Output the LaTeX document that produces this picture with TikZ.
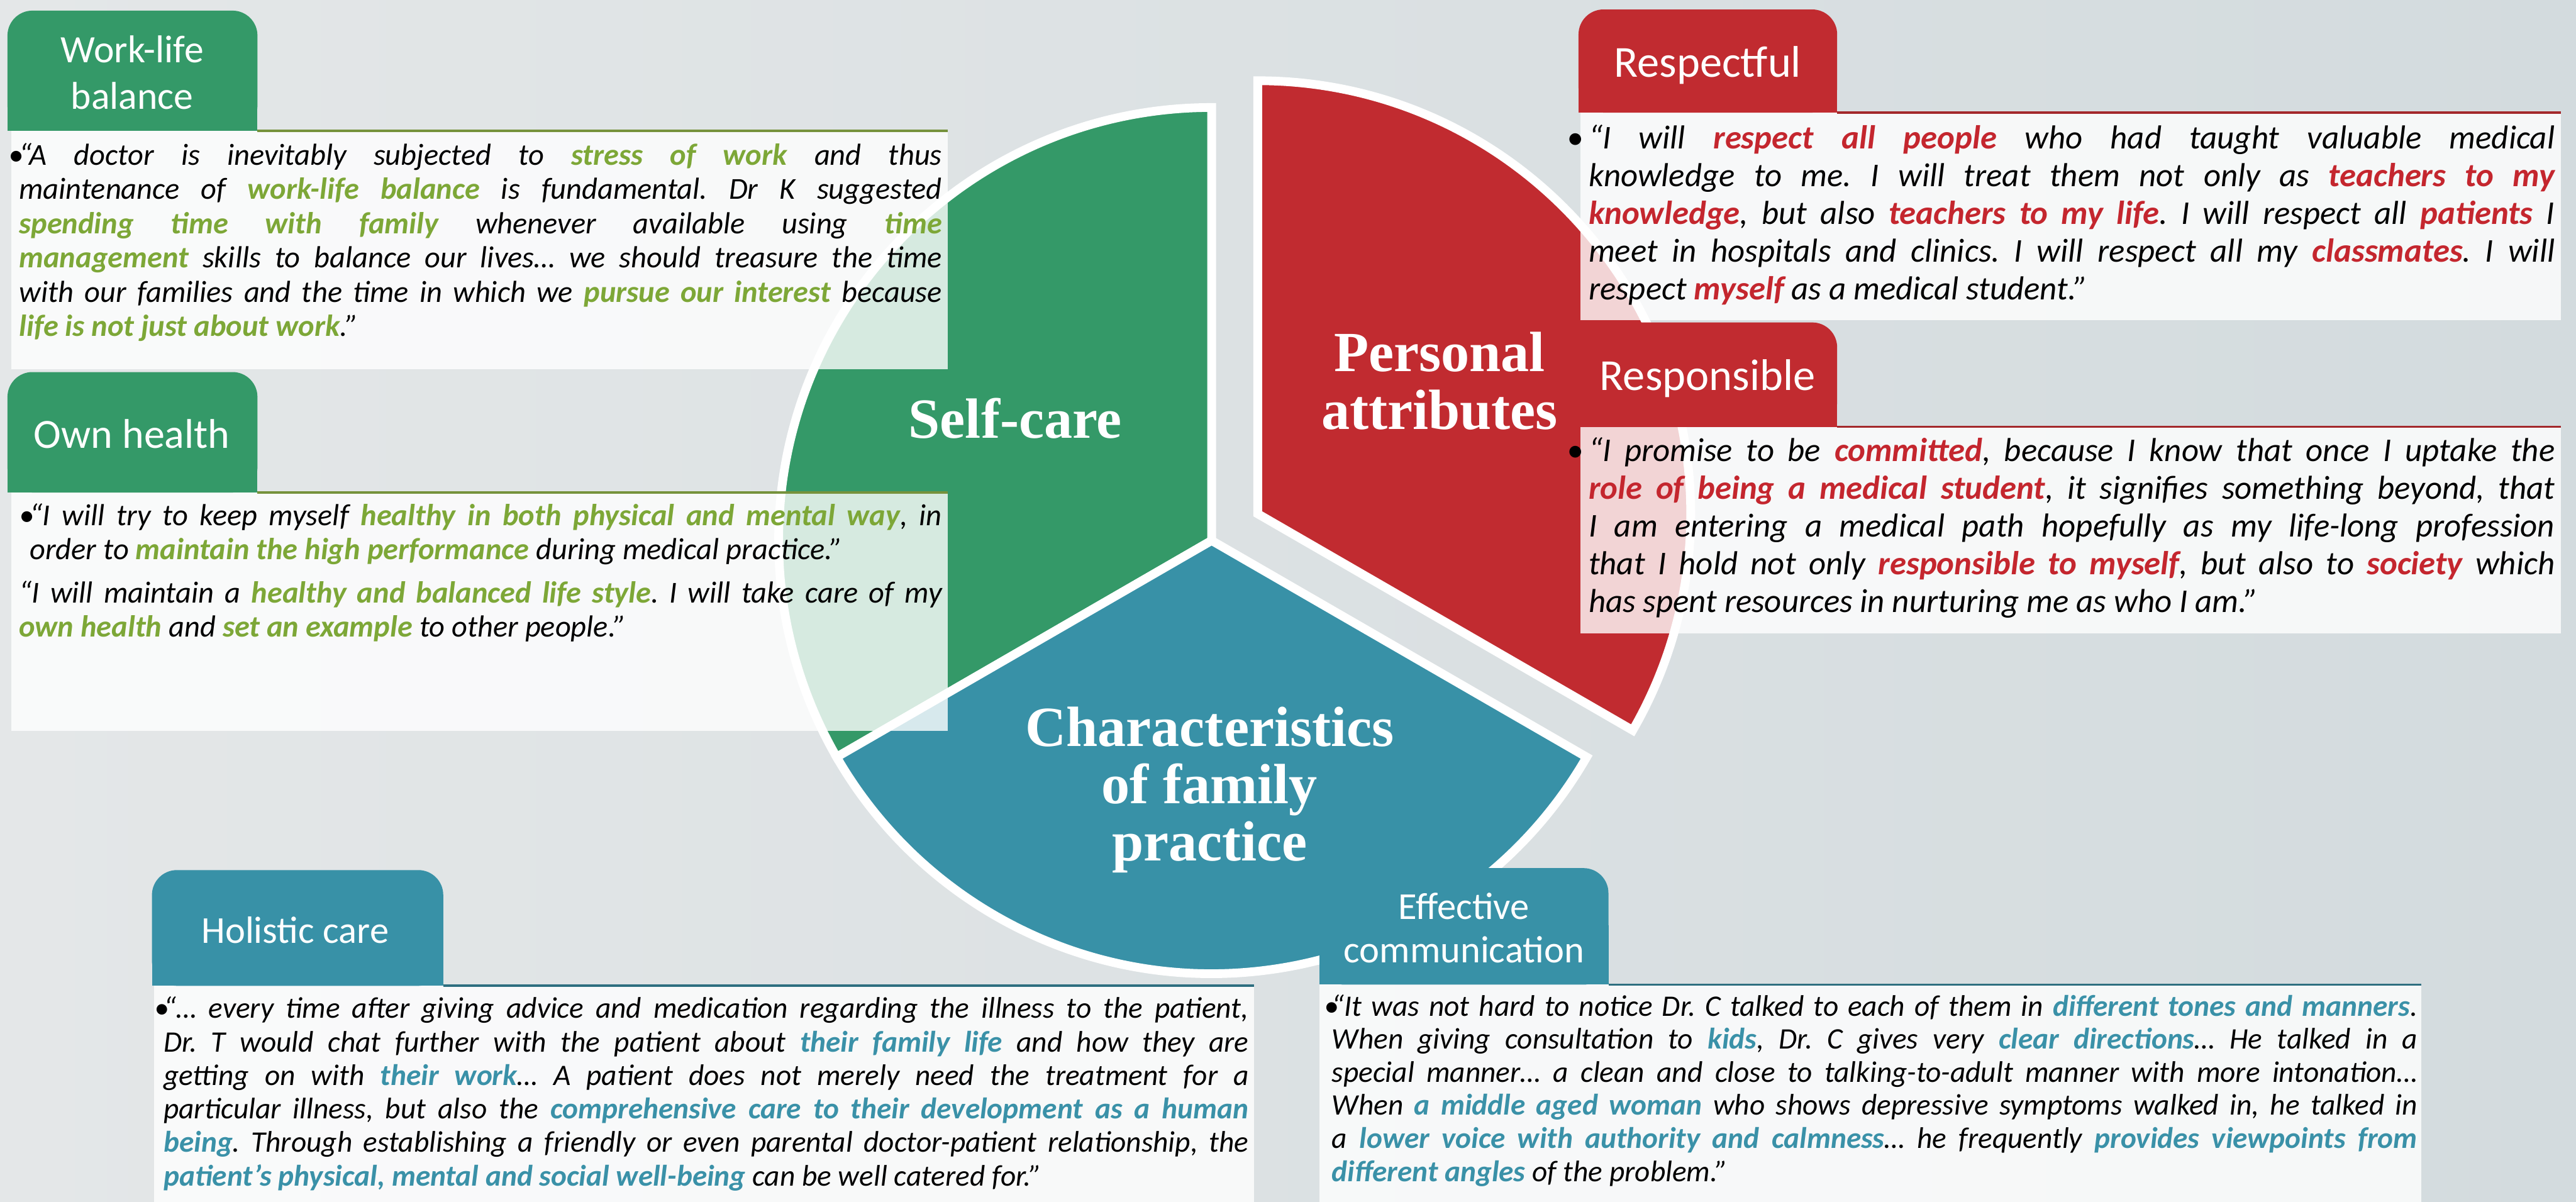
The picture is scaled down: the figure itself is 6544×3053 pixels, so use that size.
\documentclass[tikz,border=0pt]{standalone}
\usepackage{fontspec}
\setmainfont{Carlito}
\newfontfamily\piefont{Liberation Serif}

\definecolor{carecol}{HTML}{349968}
\definecolor{persocol}{HTML}{C12B30}
\definecolor{famcol}{HTML}{3891A7}
\definecolor{careline}{HTML}{76923C}
\definecolor{persoline}{HTML}{A3282B}
\definecolor{famline}{HTML}{2E6F80}
\definecolor{carehi}{HTML}{7DA737}
\definecolor{persohi}{HTML}{C4262E}
\definecolor{famhi}{HTML}{3A91A8}
\definecolor{bgleft}{HTML}{E4E7E8}
\definecolor{bgright}{HTML}{D3DBDE}

\newlength\px \setlength\px{0.01cm}
\setlength\parindent{0pt}
\frenchspacing

% highlighted words in the quotes
\newcommand\hlcare[1]{\textcolor{carehi}{\bfseries #1}}
\newcommand\hlperso[1]{\textcolor{persohi}{\bfseries #1}}
\newcommand\hlfam[1]{\textcolor{famhi}{\bfseries #1}}
% bullet hanging in the left margin
\newcommand\bul[1]{\llap{\makebox[#1][l]{•}}}
\newcommand\quoteset[1]{\hyphenpenalty=10000 \exhyphenpenalty=10000 \tolerance=10000
  \leftskip=#1\relax\noindent\rule{0pt}{1em}}

\begin{document}
\begin{tikzpicture}[x=0.01cm,y=-0.01cm,
  sector/.style={draw=white, line width=6.3pt},
  tablabel/.style={text=white, inner sep=0pt, align=center},
  pielabel/.style={text=white, inner sep=0pt, align=center},
  quote/.style={anchor=north west, inner sep=0pt, align=justify},
  panel/.style={fill=white, fill opacity=0.8},
  tabline/.style={line width=1.7pt}]

\shade[left color=bgleft, right color=bgright] (0,0) rectangle (6544,3053);
\useasboundingbox (0,0) rectangle (6544,3053);

% the three slices, the red one pulled out
\coordinate (C) at (3078,1373);
\coordinate (Cr) at (3195,1305);
\filldraw[sector, fill=carecol] (C) -- ++(-90:1100) arc[start angle=-90, end angle=-210, radius=1100] -- cycle;
\filldraw[sector, fill=persocol] (Cr) -- ++(-90:1100) arc[start angle=-90, end angle=30, radius=1100] -- cycle;
\filldraw[sector, fill=famcol] (C) -- ++(30:1100) arc[start angle=30, end angle=150, radius=1100] -- cycle;

\node[pielabel, anchor=base, font=\piefont\bfseries\fontsize{41}{41.5}\selectfont] (selfcare) at (2579,1112) {Self-care};
\node[pielabel, font=\piefont\bfseries\fontsize{41}{41.8}\selectfont] (personal) at (3657,968) {Personal\\attributes};
\node[pielabel, font=\piefont\bfseries\fontsize{41}{41.3}\selectfont] (family) at (3073,2006) {Characteristics\\of family\\practice};

% work-life balance
\fill[panel] (29,332) rectangle (2407,938);
\fill[carecol, rounded corners=18pt] (19,27) rectangle (654,332);
\fill[carecol] (19,180) rectangle (654,332);
\draw[tabline, careline] (654,332) -- (2407,332);
\node[tablabel, font=\fontsize{28}{33.6}\selectfont] (worklife) at (336,184) {Work-life\\balance};
\node[quote, text width=23.43cm, font=\fontsize{22}{24.75}\selectfont\itshape] (worklifetext) at (48,341) {\quoteset{27\px}\bul{27\px}“A doctor is inevitably subjected to \hlcare{stress of work} and thus\linebreak
maintenance of \hlcare{work-life balance} is fundamental. Dr K suggested\linebreak
\hlcare{spending time with family} whenever available using \hlcare{time}\linebreak
\hlcare{management} skills to balance our lives… we should treasure the time\linebreak
with our families and the time in which we \hlcare{pursue our interest} because\linebreak
\hlcare{life is not just about work}.”};

% own health
\fill[panel] (29,1251) rectangle (2407,1857);
\fill[carecol, rounded corners=18pt] (19,945) rectangle (654,1251);
\fill[carecol] (19,1100) rectangle (654,1251);
\draw[tabline, careline] (654,1251) -- (2407,1251);
\node[tablabel, anchor=base, font=\fontsize{30}{36}\selectfont] (ownhealth) at (335,1139) {Own health};
\node[quote, text width=23.43cm, font=\fontsize{22}{24.5}\selectfont\itshape] (ownhealthtext) at (48,1257) {\quoteset{27\px}\bul{27\px}“I will try to keep myself \hlcare{healthy in both physical and mental way}, in\linebreak
order to \hlcare{maintain the high performance} during medical practice.”\par\vspace{4.5pt}
\noindent\rule{0pt}{1em}“I will maintain a \hlcare{healthy and balanced life style}. I will take care of my\linebreak
\hlcare{own health} and \hlcare{set an example} to other people.”};

% respectful
\fill[panel] (4015,286) rectangle (6505,813);
\fill[persocol, rounded corners=18pt] (4010,24) rectangle (4667,286);
\fill[persocol] (4010,150) rectangle (4667,286);
\draw[tabline, persoline] (4667,286) -- (6505,286);
\node[tablabel, anchor=base, font=\fontsize{32}{38}\selectfont] (respectful) at (4338,195) {Respectful};
\node[quote, text width=24.53cm, font=\fontsize{24}{27.3}\selectfont\itshape] (respectfultext) at (4035,292) {\quoteset{55\px}\bul{55\px}“I will \hlperso{respect all people} who had taught valuable medical\linebreak
knowledge to me. I will treat them not only as \hlperso{teachers to my}\linebreak
\hlperso{knowledge}, but also \hlperso{teachers to my life}. I will respect all \hlperso{patients} I\linebreak
meet in hospitals and clinics. I will respect all my \hlperso{classmates}. I will\linebreak
respect \hlperso{myself} as a medical student.”};

% responsible
\fill[panel] (4015,1084) rectangle (6505,1609);
\fill[persocol, rounded corners=18pt] (4010,819) rectangle (4667,1084);
\fill[persocol] (4010,950) rectangle (4667,1084);
\draw[tabline, persoline] (4667,1084) -- (6505,1084);
\node[tablabel, anchor=base, font=\fontsize{32}{38}\selectfont] (responsible) at (4338,991) {Responsible};
\node[quote, text width=24.53cm, font=\fontsize{24}{27.3}\selectfont\itshape] (responsibletext) at (4035,1086) {\quoteset{55\px}\bul{55\px}“I promise to be \hlperso{committed}, because I know that once I uptake the\linebreak
\hlperso{role of being a medical student}, it signifies something beyond, that\linebreak
I am entering a medical path hopefully as my life-long profession\linebreak
that I hold not only \hlperso{responsible to myself}, but also to \hlperso{society} which\linebreak
has spent resources in nurturing me as who I am.”};

% holistic care
\fill[panel] (392,2504) rectangle (3185,3053);
\fill[famcol, rounded corners=18pt] (386,2210) rectangle (1126,2504);
\fill[famcol] (386,2350) rectangle (1126,2504);
\draw[tabline, famline] (1126,2504) -- (3185,2504);
\node[tablabel, anchor=base, font=\fontsize{27.5}{33}\selectfont] (holistic) at (750,2395) {Holistic care};
\node[quote, text width=27.55cm, font=\fontsize{21.5}{24.2}\selectfont\itshape] (holistictext) at (415,2510) {\quoteset{23\px}\bul{23\px}“… every time after giving advice and medication regarding the illness to the patient,\linebreak
Dr. T would chat further with the patient about \hlfam{their family life} and how they are\linebreak
getting on with \hlfam{their work}… A patient does not merely need the treatment for a\linebreak
particular illness, but also the \hlfam{comprehensive care to their development as a human}\linebreak
\hlfam{being}. Through establishing a friendly or even parental doctor-patient relationship, the\linebreak
\hlfam{patient’s physical, mental and social well-being} can be well catered for.”};

% effective communication
\fill[panel] (3352,2501) rectangle (6151,3053);
\fill[famcol, rounded corners=18pt] (3352,2205) rectangle (4086,2501);
\fill[famcol] (3352,2350) rectangle (4086,2501);
\draw[tabline, famline] (4086,2501) -- (6151,2501);
\node[tablabel, font=\fontsize{27.5}{31.3}\selectfont] (communication) at (3719,2357) {Effective\\communication};
\node[quote, text width=27.56cm, font=\fontsize{21.5}{23.9}\selectfont\itshape] (communicationtext) at (3383,2504) {\quoteset{20\px}\bul{20\px}“It was not hard to notice Dr. C talked to each of them in \hlfam{different tones and manners}.\linebreak
When giving consultation to \hlfam{kids}, Dr. C gives very \hlfam{clear directions}… He talked in a\linebreak
special manner… a clean and close to talking-to-adult manner with more intonation…\linebreak
When \hlfam{a middle aged woman} who shows depressive symptoms walked in, he talked in\linebreak
a \hlfam{lower voice with authority and calmness}… he frequently \hlfam{provides viewpoints from}\linebreak
\hlfam{different angles} of the problem.”};

\end{tikzpicture}
\end{document}
